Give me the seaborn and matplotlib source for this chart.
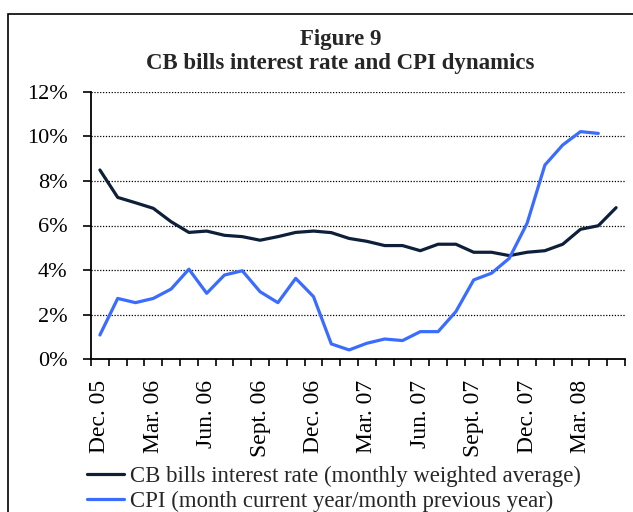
import numpy as np
import pandas as pd
import matplotlib
matplotlib.use("Agg")
import matplotlib.pyplot as plt
import seaborn as sns
from matplotlib.patches import Rectangle
from matplotlib.lines import Line2D
from matplotlib.ticker import FuncFormatter, FixedLocator

months = ["Dec. 05", "Jan. 06", "Feb. 06", "Mar. 06", "Apr. 06", "May 06", "Jun. 06",
          "Jul. 06", "Aug. 06", "Sept. 06", "Oct. 06", "Nov. 06", "Dec. 06", "Jan. 07",
          "Feb. 07", "Mar. 07", "Apr. 07", "May 07", "Jun. 07", "Jul. 07", "Aug. 07",
          "Sept. 07", "Oct. 07", "Nov. 07", "Dec. 07", "Jan. 08", "Feb. 08", "Mar. 08",
          "Apr. 08", "May 08"]
cb_rate = [8.49, 7.26, 7.02, 6.77, 6.17, 5.69, 5.75, 5.56, 5.50, 5.34, 5.50, 5.69, 5.75,
           5.68, 5.42, 5.29, 5.10, 5.10, 4.87, 5.16, 5.16, 4.80, 4.80, 4.65, 4.80, 4.87,
           5.16, 5.83, 5.99, 6.80]
cpi = [1.09, 2.73, 2.54, 2.73, 3.15, 4.04, 2.96, 3.78, 3.97, 3.03, 2.54, 3.63, 2.81,
       0.69, 0.42, 0.72, 0.91, 0.84, 1.24, 1.24, 2.14, 3.56, 3.86, 4.53, 6.10, 8.71,
       9.61, 10.21, 10.13, np.nan]
label_cb = "CB bills interest rate (monthly weighted average)"
label_cpi = "CPI (month current year/month previous year)"
shown_labels = ["Dec. 05", "Mar. 06", "Jun. 06", "Sept. 06", "Dec. 06", "Mar. 07",
                "Jun. 07", "Sept. 07", "Dec. 07", "Mar. 08"]

sns.set_theme(style="white")
plt.rcParams["font.family"] = ["Liberation Serif", "DejaVu Serif"]

pos = np.arange(len(months))
df = pd.DataFrame({
    "pos": np.concatenate([pos, pos]),
    "value": cb_rate + cpi,
    "series": [label_cb] * len(months) + [label_cpi] * len(months),
})

fig = plt.figure(figsize=(6.33, 5.12), dpi=100)
ax = fig.add_axes([91 / 633, 1 - 359.3 / 512, 534 / 633, 267.6 / 512])

palette = {label_cb: "#0e1f3a", label_cpi: "#3a6cff"}
sns.lineplot(data=df, x="pos", y="value", hue="series", palette=palette,
             linewidth=2.3, ax=ax, legend=False, estimator=None)

ax.set_xlim(-0.5, len(months) - 0.5)
ax.set_ylim(0, 12)
ax.set_yticks(np.arange(0, 13, 2))
ax.yaxis.set_major_formatter(FuncFormatter(lambda v, p: f"{int(v)}%"))
ax.set_xticks([months.index(m) for m in shown_labels])
ax.set_xticklabels(shown_labels, rotation=90)
ax.xaxis.set_minor_locator(FixedLocator(np.arange(-0.5, len(months), 1.0)))
ax.tick_params(axis="x", which="major", length=0, pad=15, labelsize=17)
ax.tick_params(axis="x", which="minor", length=5, width=1.2, color="black", direction="out", bottom=True)
ax.tick_params(axis="y", which="major", length=6, width=1.2, color="black", direction="out",
               left=True, labelsize=16, pad=11)
for t in ax.get_xticklabels() + ax.get_yticklabels():
    t.set_color("black")
ax.set_xlabel("")
ax.set_ylabel("")
for g in np.arange(2, 13, 2):
    ax.axhline(g, color="black", linestyle=(0, (1, 1.3)), linewidth=0.9, zorder=0)
for s in ["top", "right"]:
    ax.spines[s].set_visible(False)
for s in ["left", "bottom"]:
    ax.spines[s].set_color("black")
    ax.spines[s].set_linewidth(1.3)

fig.text(0.538, 1 - 39 / 512, "Figure 9", ha="center", va="center",
         fontsize=16.5, fontweight="bold")
fig.text(0.538, 1 - 63 / 512, "CB bills interest rate and CPI dynamics", ha="center",
         va="center", fontsize=16.5, fontweight="bold")

handles = [Line2D([], [], color=palette[label_cb], linewidth=2.3),
           Line2D([], [], color=palette[label_cpi], linewidth=2.3)]
fig.legend(handles, [label_cb, label_cpi], loc="upper left",
           bbox_to_anchor=(78 / 633, 1 - 457 / 512), frameon=False, fontsize=16.4,
           handlelength=1.6, handletextpad=0.3, labelspacing=0.15, borderaxespad=0)

fig.patches.append(Rectangle((8 / 633, -0.05), 1.0, 1 - 14 / 512 + 0.05,
                             transform=fig.transFigure, fill=False,
                             edgecolor="black", linewidth=1.2))

fig.savefig("out.png", dpi=100)
